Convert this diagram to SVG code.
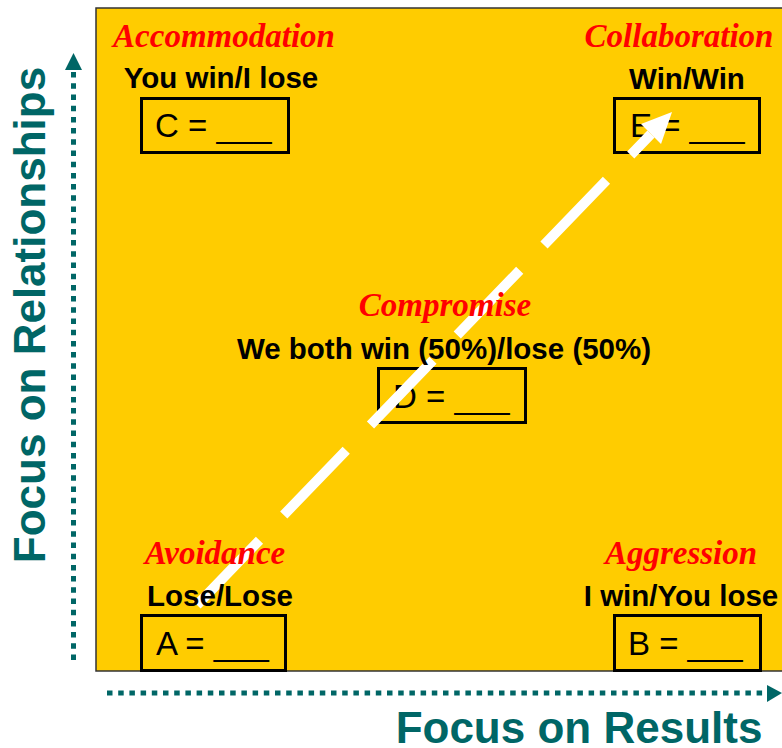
<svg xmlns="http://www.w3.org/2000/svg" width="782" height="748" viewBox="0 0 782 748">
<style>
.title{font-family:"Liberation Serif","Times New Roman",serif;font-weight:bold;font-style:italic;font-size:33px;fill:#FF0000;text-anchor:middle}
.lbl{font-family:"Liberation Sans",Arial,sans-serif;font-weight:bold;font-size:29.5px;fill:#000;text-anchor:middle}
.val{font-family:"Liberation Sans",Arial,sans-serif;font-size:33px;fill:#000}
.box{fill:none;stroke:#000;stroke-width:3}
.axis{font-family:"Liberation Sans",Arial,sans-serif;font-weight:bold;font-size:44px;fill:#006666;text-anchor:middle}
.dots{stroke:#006666;stroke-width:5;stroke-dasharray:5.5 5.7;fill:none}
</style>
<rect x="96" y="8" width="690" height="663" fill="#FFCC00" stroke="#333" stroke-width="1.5"/>
<g id="axes">
<line class="dots" x1="73.5" y1="660" x2="73.5" y2="71"/>
<polygon points="73.5,53 65,70 82,70" fill="#006666"/>
<line class="dots" x1="107" y1="693" x2="766" y2="693"/>
<polygon points="782,693 767,685 767,702" fill="#006666"/>
<text class="axis" transform="translate(45,315) rotate(-90)">Focus on Relationships</text>
<text class="axis" x="579" y="743">Focus on Results</text>
</g>
<g id="box-C"><rect class="box" x="141.5" y="98.5" width="147" height="54"/><text class="val" x="155" y="137">C = ___</text></g>
<g id="box-E"><rect class="box" x="614.5" y="98.5" width="145" height="54"/><text class="val" x="630" y="137">E = ___</text></g>
<g id="box-D"><rect class="box" x="378.5" y="368.5" width="147" height="54"/><text class="val" x="393" y="408">D = ___</text></g>
<g id="box-A"><rect class="box" x="141.5" y="615.5" width="144" height="55"/><text class="val" x="156" y="655">A = ___</text></g>
<g id="box-B"><rect class="box" x="614.5" y="615.5" width="146" height="55"/><text class="val" x="628" y="655">B = ___</text></g>
<g id="connectors">
<path d="M197,605 L651,134" stroke="#FFFFFF" stroke-width="10" stroke-dasharray="90 35" fill="none"/>
<polygon points="672,112 661,144 641,124" fill="#FFFFFF"/>
</g>
<g id="node-C"><text class="title" x="224" y="47">Accommodation</text><text class="lbl" x="221" y="88">You win/I lose</text></g>
<g id="node-E"><text class="title" x="679" y="47">Collaboration</text><text class="lbl" x="687" y="89">Win/Win</text></g>
<g id="node-D"><text class="title" x="445" y="316">Compromise</text><text class="lbl" x="444" y="359">We both win (50%)/lose (50%)</text></g>
<g id="node-A"><text class="title" x="215" y="564">Avoidance</text><text class="lbl" x="220" y="606">Lose/Lose</text></g>
<g id="node-B"><text class="title" x="681" y="564">Aggression</text><text class="lbl" x="681" y="606">I win/You lose</text></g>
</svg>
